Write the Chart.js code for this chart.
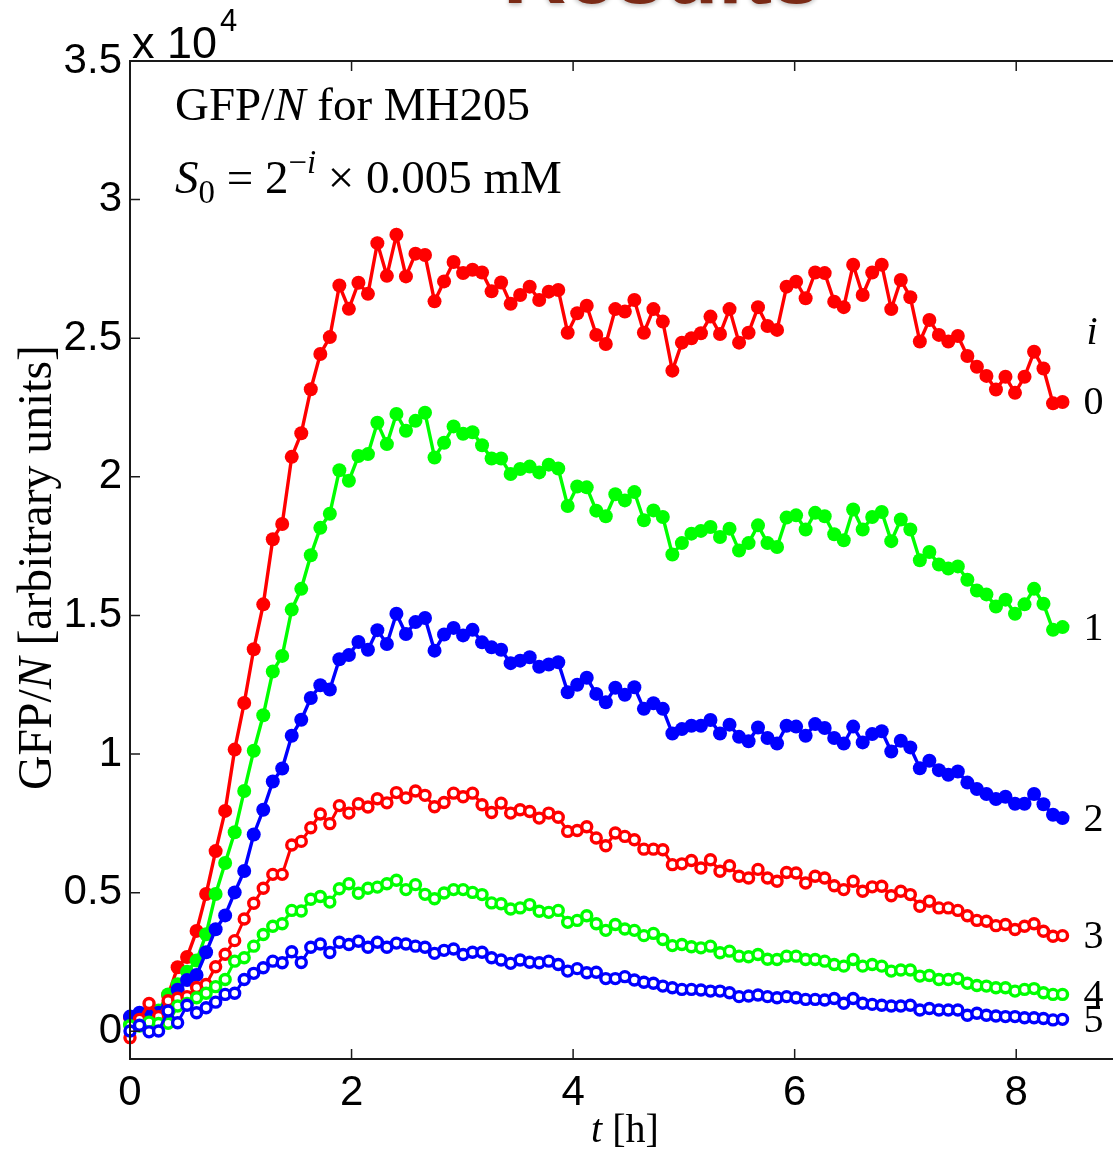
<!DOCTYPE html>
<html><head><meta charset="utf-8">
<script src="https://cdn.jsdelivr.net/npm/chart.js@4.4.1/dist/chart.umd.min.js"></script>
<style>
html,body{margin:0;padding:0;background:#fff;overflow:hidden;width:1113px;height:1154px}
canvas{display:block}
</style>
</head><body>
<canvas id="c" width="1140" height="1154" style="width:1140px;height:1154px"></canvas>
<script>
// time axis [h]
const timeH = [0,0.086,0.172,0.258,0.344,0.430,0.515,0.601,0.687,0.773,0.859,0.945,1.031,1.117,1.203,1.289,1.374,1.460,1.546,1.632,1.718,1.804,1.890,1.976,2.062,2.148,2.233,2.319,2.405,2.491,2.577,2.663,2.749,2.835,2.921,3.007,3.092,3.178,3.264,3.350,3.436,3.522,3.608,3.694,3.780,3.866,3.951,4.037,4.123,4.209,4.295,4.381,4.467,4.553,4.639,4.725,4.810,4.896,4.982,5.068,5.154,5.240,5.326,5.412,5.498,5.584,5.669,5.755,5.841,5.927,6.013,6.099,6.185,6.271,6.357,6.443,6.528,6.614,6.700,6.786,6.872,6.958,7.044,7.130,7.216,7.302,7.387,7.473,7.559,7.645,7.731,7.817,7.903,7.989,8.075,8.161,8.246,8.332,8.418];

// GFP/N values in units of 10^4, for i = 0..5
const gfpI0 = [0.05,0.055,0.06,0.06,0.13,0.231,0.268,0.362,0.495,0.65,0.795,1.016,1.184,1.378,1.54,1.775,1.83,2.072,2.157,2.316,2.443,2.504,2.69,2.606,2.70,2.66,2.843,2.725,2.873,2.723,2.805,2.80,2.633,2.705,2.775,2.735,2.747,2.737,2.669,2.701,2.624,2.656,2.686,2.638,2.668,2.674,2.52,2.59,2.617,2.512,2.479,2.605,2.596,2.638,2.52,2.605,2.56,2.383,2.484,2.5,2.518,2.578,2.515,2.605,2.484,2.52,2.612,2.544,2.53,2.686,2.704,2.644,2.737,2.735,2.632,2.612,2.765,2.656,2.737,2.765,2.605,2.71,2.648,2.488,2.566,2.512,2.488,2.508,2.436,2.397,2.364,2.315,2.361,2.303,2.361,2.451,2.391,2.265,2.27];
const gfpI1 = [0.025,0.04,0.055,0.075,0.133,0.17,0.215,0.255,0.35,0.495,0.607,0.718,0.867,1.012,1.14,1.298,1.354,1.521,1.596,1.717,1.816,1.867,2.024,1.986,2.075,2.082,2.195,2.118,2.227,2.166,2.202,2.231,2.07,2.123,2.182,2.155,2.161,2.114,2.066,2.066,2.01,2.028,2.037,2.016,2.044,2.03,1.895,1.965,1.962,1.878,1.858,1.937,1.915,1.945,1.843,1.879,1.855,1.72,1.761,1.795,1.805,1.819,1.783,1.813,1.734,1.761,1.825,1.761,1.747,1.853,1.861,1.81,1.87,1.858,1.793,1.771,1.882,1.81,1.855,1.873,1.768,1.846,1.81,1.699,1.729,1.684,1.669,1.677,1.629,1.59,1.576,1.532,1.557,1.506,1.54,1.596,1.542,1.448,1.458];
const gfpI2 = [0.053,0.067,0.06,0.067,0.09,0.15,0.185,0.203,0.285,0.368,0.418,0.501,0.578,0.71,0.799,0.901,0.948,1.066,1.124,1.202,1.248,1.233,1.342,1.357,1.404,1.376,1.447,1.397,1.506,1.433,1.476,1.491,1.373,1.431,1.455,1.428,1.448,1.403,1.385,1.376,1.328,1.337,1.349,1.315,1.323,1.331,1.223,1.25,1.275,1.217,1.187,1.239,1.214,1.241,1.163,1.183,1.163,1.074,1.09,1.102,1.102,1.123,1.074,1.106,1.062,1.046,1.096,1.058,1.038,1.102,1.099,1.066,1.108,1.094,1.058,1.038,1.099,1.042,1.072,1.082,1.009,1.048,1.024,0.949,0.976,0.942,0.925,0.937,0.897,0.874,0.856,0.838,0.846,0.821,0.821,0.856,0.819,0.781,0.769];
const gfpI3 = [-0.023,0.043,0.10,0.053,0.11,0.119,0.125,0.158,0.169,0.233,0.278,0.327,0.405,0.462,0.516,0.566,0.566,0.672,0.685,0.734,0.784,0.749,0.814,0.787,0.821,0.809,0.839,0.824,0.861,0.842,0.867,0.851,0.81,0.825,0.859,0.846,0.859,0.817,0.789,0.823,0.787,0.799,0.793,0.769,0.787,0.772,0.721,0.724,0.738,0.697,0.669,0.715,0.703,0.691,0.657,0.657,0.655,0.601,0.604,0.616,0.589,0.619,0.577,0.597,0.559,0.553,0.584,0.553,0.541,0.573,0.571,0.535,0.559,0.553,0.525,0.511,0.541,0.505,0.521,0.523,0.489,0.505,0.493,0.451,0.469,0.445,0.445,0.436,0.417,0.40,0.397,0.381,0.385,0.367,0.379,0.388,0.361,0.343,0.345];
const gfpI4 = [0.02,0.019,0.033,0.028,0.029,0.091,0.10,0.121,0.137,0.161,0.187,0.253,0.265,0.307,0.349,0.379,0.388,0.436,0.434,0.476,0.486,0.466,0.514,0.532,0.498,0.516,0.52,0.532,0.545,0.511,0.529,0.494,0.478,0.499,0.511,0.511,0.501,0.493,0.463,0.46,0.441,0.445,0.457,0.433,0.429,0.436,0.393,0.40,0.417,0.388,0.364,0.385,0.369,0.364,0.345,0.353,0.331,0.309,0.313,0.305,0.301,0.307,0.283,0.289,0.271,0.269,0.277,0.26,0.259,0.271,0.271,0.259,0.259,0.253,0.241,0.235,0.259,0.235,0.241,0.235,0.217,0.221,0.221,0.199,0.201,0.187,0.187,0.19,0.173,0.165,0.163,0.157,0.157,0.145,0.151,0.154,0.139,0.133,0.133];
const gfpI5 = [0.001,0.022,-0.002,0.001,0.073,0.031,0.094,0.067,0.085,0.105,0.133,0.137,0.187,0.209,0.229,0.253,0.247,0.287,0.248,0.303,0.315,0.284,0.321,0.313,0.325,0.303,0.321,0.303,0.318,0.315,0.307,0.303,0.281,0.292,0.297,0.277,0.285,0.285,0.265,0.257,0.245,0.257,0.249,0.247,0.253,0.241,0.217,0.226,0.211,0.213,0.19,0.19,0.197,0.185,0.177,0.173,0.163,0.157,0.151,0.151,0.149,0.145,0.145,0.139,0.125,0.127,0.131,0.125,0.121,0.125,0.121,0.115,0.115,0.113,0.118,0.101,0.118,0.101,0.097,0.094,0.091,0.091,0.094,0.077,0.082,0.077,0.077,0.077,0.058,0.065,0.058,0.055,0.053,0.053,0.049,0.049,0.046,0.041,0.043];

const seriesNames = ['0','1','2','3','4','5'];
const xTicks = [0,2,4,6,8];
const yTicks = [0,0.5,1,1.5,2,2.5,3,3.5];

// styles (kept apart from the data)
const allSeries = [gfpI0,gfpI1,gfpI2,gfpI3,gfpI4,gfpI5];
const colors = ['#ff0000','#00ff00','#0000ff','#ff0000','#00ff00','#0000ff'];
const filled = [true,true,true,false,false,false];
const SERIF = '"Liberation Serif", "Times New Roman", serif';
const SANS = '"Liberation Sans", Arial, Helvetica, sans-serif';

const datasets = allSeries.map((vals,i)=>({
  label: seriesNames[i],
  data: vals.map((v,k)=>({x: timeH[k], y: v})),
  borderColor: colors[i],
  backgroundColor: colors[i],
  borderWidth: filled[i] ? 3.4 : 3,
  pointRadius: filled[i] ? 7 : 5,
  pointHoverRadius: filled[i] ? 7 : 5,
  pointBorderWidth: filled[i] ? 0 : 3.4,
  pointBackgroundColor: filled[i] ? colors[i] : '#ffffff',
  pointBorderColor: colors[i],
  tension: 0,
  order: 5 - i,
  clip: 10
}));

// rich text helper: parts = [{t, it, sup, sub}]
function richWidth(ctx, parts, size){
  let w = 0;
  parts.forEach(p=>{
    const s = (p.sup||p.sub) ? size*0.7 : size;
    ctx.font = (p.it?'italic ':'') + s + 'px ' + SERIF;
    w += ctx.measureText(p.t).width;
  });
  return w;
}
function drawRich(ctx, parts, x, y, size){
  ctx.textBaseline = 'alphabetic';
  ctx.textAlign = 'left';
  parts.forEach(p=>{
    const s = (p.sup||p.sub) ? size*0.7 : size;
    ctx.font = (p.it?'italic ':'') + s + 'px ' + SERIF;
    const dy = p.sup ? -size*0.42 : (p.sub ? size*0.22 : 0);
    ctx.fillText(p.t, x, y + dy);
    x += ctx.measureText(p.t).width;
  });
}
function fitSize(ctx, parts, width){
  const w = richWidth(ctx, parts, 100);
  return 100*width/w;
}

const decor = {
  id: 'decor',
  afterDatasetsDraw(chart){
    const {ctx, chartArea:a, scales:{x, y}} = chart;
    ctx.save();
    ctx.strokeStyle = '#1a1a1a';
    ctx.lineWidth = 2;
    ctx.beginPath();
    ctx.moveTo(a.right, a.top); ctx.lineTo(a.left, a.top);
    ctx.lineTo(a.left, a.bottom); ctx.lineTo(a.right, a.bottom);
    ctx.lineTo(a.right, a.top);
    ctx.stroke();
    ctx.lineWidth = 1.5;
    ctx.beginPath();
    xTicks.forEach(v=>{
      const px = x.getPixelForValue(v);
      ctx.moveTo(px, a.bottom); ctx.lineTo(px, a.bottom-10);
      ctx.moveTo(px, a.top); ctx.lineTo(px, a.top+10);
    });
    yTicks.forEach(v=>{
      const py = y.getPixelForValue(v);
      ctx.moveTo(a.left, py); ctx.lineTo(a.left+10, py);
      ctx.moveTo(a.right, py); ctx.lineTo(a.right-10, py);
    });
    ctx.stroke();
    ctx.restore();
  },
  afterDraw(chart){
    const {ctx, chartArea:a, scales:{x, y}} = chart;
    ctx.save();
    ctx.fillStyle = '#000';
    // exponent label
    ctx.font = '45px ' + SANS;
    ctx.textAlign = 'left'; ctx.textBaseline = 'alphabetic';
    ctx.fillText('x 10', a.left + 2, a.top - 3);
    const w10 = ctx.measureText('x 10').width;
    ctx.font = '31px ' + SANS;
    ctx.fillText('4', a.left + 5 + w10, a.top - 30);

    // annotation lines
    const t1 = [{t:'GFP/'},{t:'N',it:true},{t:' for MH205'}];
    const s1 = fitSize(ctx, t1, 355);
    drawRich(ctx, t1, 175, 120, s1);
    const t2 = [{t:'S',it:true},{t:'0',sub:true},{t:' = 2'},{t:'\u2212',sup:true},{t:'i',it:true,sup:true},{t:' \u00d7 0.005 mM'}];
    drawRich(ctx, t2, 175, 193, s1);

    // y axis title (rotated)
    const ty = [{t:'GFP/'},{t:'N',it:true},{t:' [arbitrary units]'}];
    const sy = fitSize(ctx, ty, 445);
    ctx.save();
    ctx.translate(51, 790);
    ctx.rotate(-Math.PI/2);
    drawRich(ctx, ty, 0, 0, sy);
    ctx.restore();

    // x axis title
    const tx = [{t:'t',it:true},{t:' [h]'}];
    const sx = 40;
    const wx = richWidth(ctx, tx, sx);
    drawRich(ctx, tx, 625 - wx/2, 1142, sx);

    // series end labels
    const lastK = timeH.length - 1;
    ctx.font = '40px ' + SERIF;
    ctx.textAlign = 'left'; ctx.textBaseline = 'middle';
    allSeries.forEach((vals,i)=>{
      const px = x.getPixelForValue(timeH[lastK]) + 21;
      const py = y.getPixelForValue(vals[lastK]);
      ctx.fillText(seriesNames[i], px, py + 2);
    });
    ctx.font = 'italic 40px ' + SERIF;
    ctx.fillText('i', x.getPixelForValue(timeH[lastK]) + 24, y.getPixelForValue(gfpI0[lastK]) - 68);

    // cropped slide title
    ctx.font = 'bold 88px ' + SANS;
    ctx.textAlign = 'center'; ctx.textBaseline = 'alphabetic';
    ctx.fillStyle = '#7a2a16';
    ctx.shadowColor = 'rgba(0,0,0,0.25)'; ctx.shadowBlur = 4; ctx.shadowOffsetY = 2;
    ctx.fillText('Results', 662, 3);
    ctx.restore();
  }
};

new Chart(document.getElementById('c'), {
  type: 'line',
  data: { datasets },
  options: {
    responsive: false,
    devicePixelRatio: 1,
    animation: false,
    layout: { padding: { left: 0, top: 61, right: 13, bottom: 0 } },
    plugins: { legend: { display: false }, tooltip: { enabled: false }, title: { display: false } },
    scales: {
      x: {
        type: 'linear', min: 0, max: 9,
        afterBuildTicks: s => { s.ticks = xTicks.map(v=>({value:v})); },
        afterFit: s => { s.height = 95; },
        grid: { display: false, drawTicks: false },
        border: { display: false },
        ticks: { font: { family: SANS, size: 42 }, color: '#000', padding: 9, maxRotation: 0,
          callback: v => String(v) }
      },
      y: {
        type: 'linear', min: -0.1, max: 3.5,
        afterBuildTicks: s => { s.ticks = yTicks.map(v=>({value:v})); },
        afterFit: s => { s.width = 130; },
        grid: { display: false, drawTicks: false },
        border: { display: false },
        ticks: { font: { family: SANS, size: 42 }, color: '#000', padding: 8,
          callback: v => String(v) }
      }
    }
  },
  plugins: [decor]
});
</script>
</body></html>
